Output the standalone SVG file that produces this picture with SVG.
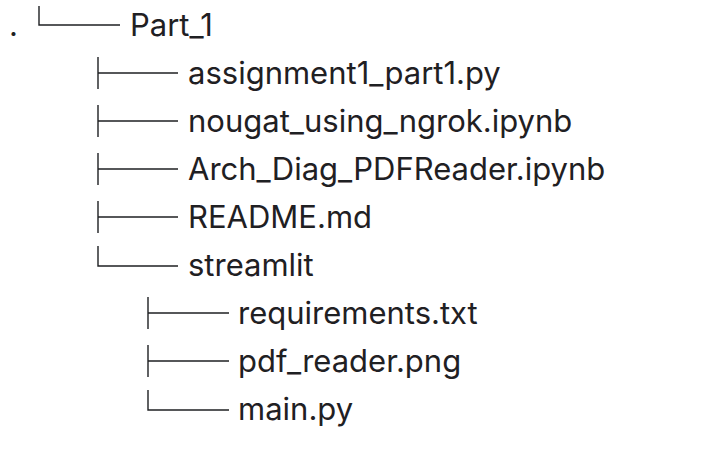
<svg xmlns="http://www.w3.org/2000/svg" width="712" height="466" viewBox="0 0 712 466">
<style>
.t{font-family:Inter,"Liberation Sans",Arial,sans-serif;font-size:31px;fill:#1f2023}
.l{stroke:#1f2023;stroke-width:1.4;fill:none}
</style>
<rect width="712" height="466" fill="#ffffff"/>
<g id="connectors">
<path class="l" d="M39,6V25H120"/>
<path class="l" d="M98,57V89M98,73H178"/>
<path class="l" d="M98,105V137M98,121H178"/>
<path class="l" d="M98,153V185M98,169H178"/>
<path class="l" d="M98,201V233M98,217H178"/>
<path class="l" d="M98,246V266H178"/>
<path class="l" d="M148,297V329M148,313H229"/>
<path class="l" d="M148,345V377M148,361H229"/>
<path class="l" d="M148,390V410H229"/>
</g>
<g id="root"><text class="t" x="9" y="36">.</text></g>
<g id="part1"><text class="t" x="130" y="36">Part_1</text></g>
<g id="assignment"><text class="t" x="188" y="84">assignment1_part1.py</text></g>
<g id="nougat"><text class="t" x="188" y="132">nougat_using_ngrok.ipynb</text></g>
<g id="arch"><text class="t" x="188" y="180">Arch_Diag_PDFReader.ipynb</text></g>
<g id="readme"><text class="t" x="188" y="228">README.md</text></g>
<g id="streamlit"><text class="t" x="188" y="276">streamlit</text></g>
<g id="requirements"><text class="t" x="238" y="324">requirements.txt</text></g>
<g id="pdfreader"><text class="t" x="238" y="372">pdf_reader.png</text></g>
<g id="main"><text class="t" x="238" y="420">main.py</text></g>
</svg>
